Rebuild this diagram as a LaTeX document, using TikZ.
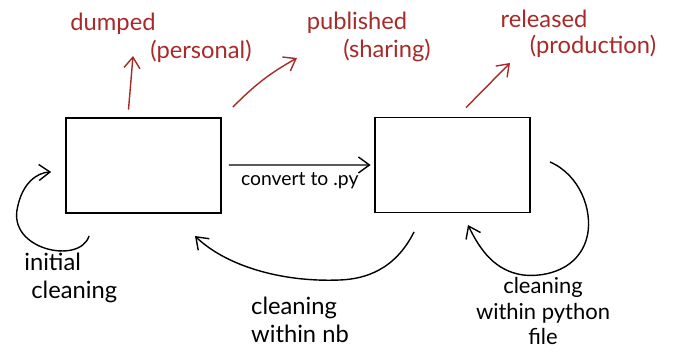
\documentclass[tikz,border=0pt]{standalone}
\usepackage{fontspec}
\setmainfont{Lato}
\usepackage{xcolor}
\usepackage{tikz}
\usetikzlibrary{arrows.meta,positioning,calc}

\definecolor{inkred}{RGB}{168,42,40}

\begin{document}
\begin{tikzpicture}[
		stage/.style={draw, line width=1pt, minimum width=3.1cm, minimum height=1.9cm},
		flow/.style={line width=0.8pt, -{Straight Barb[length=2.2mm,width=3.2mm]}},
		redflow/.style={flow, draw=inkred},
		redlabel/.style={text=inkred, font=\fontsize{13.5}{15}\selectfont, inner sep=0pt},
		blacklabel/.style={font=\fontsize{13.5}{16}\selectfont, inner sep=0pt}
	]
		\useasboundingbox (0,0) rectangle (13.56,7.2);

		% the two stages
		\node[stage] (nb) at (2.87,3.89) {};
		\node[stage] (py) at (9.05,3.9) {};

		\draw[flow] ([xshift=4pt,yshift=0.3pt]nb.east) -- node[below=4pt, font=\fontsize{11}{13}\selectfont, inner sep=0pt] (convlabel) {convert to .py} ([xshift=-2pt]py.west);

		% where the work ends up
		\node[redlabel] (dumped) at (2.26,6.72) {dumped};
		\node[redlabel] (personal) at (4.02,6.18) {(personal)};
		\node[redlabel] (published) at (7.14,6.74) {published};
		\node[redlabel] (sharing) at (7.74,6.2) {(sharing)};
		\node[redlabel] (released) at (10.88,6.82) {released};
		\node[redlabel] (production) at (11.86,6.28) {(production)};

		\coordinate (dumpedtip) at (2.66,6.08);
		\coordinate (publishedtip) at (5.94,6.04);
		\coordinate (releasedtip) at (10.2,5.94);

		\draw[redflow] ([xshift=-0.3cm,yshift=0.15cm]nb.north) -- (dumpedtip);
		\draw[redflow] ([xshift=0.22cm,yshift=0.2cm]nb.north east) to[bend left=8] (publishedtip);
		\draw[redflow] ([xshift=0.27cm,yshift=0.18cm]py.north) -- (releasedtip);

		% cleaning loops
		\coordinate (initstart) at (1.78,2.48);
		\coordinate (nbstart) at (8.28,2.56);
		\coordinate (nbend) at (3.9,2.48);
		\coordinate (pystart) at (11.0,3.96);
		\coordinate (pyend) at (9.36,2.7);

		\draw[flow] (initstart) .. controls (1.6,1.9) and (0.15,2.2) .. (0.35,3.05) .. controls (0.45,3.55) and (0.75,3.75) .. ([xshift=-0.28cm,yshift=-0.13cm]nb.west);
		\draw[flow] (nbstart) .. controls (7.9,1.8) and (7.3,1.62) .. (6.8,1.6) .. controls (5.6,1.55) and (4.5,1.9) .. (nbend);
		\draw[flow] (pystart) .. controls (11.6,3.7) and (11.85,3.0) .. (11.75,2.5) .. controls (11.6,1.8) and (10.9,1.65) .. (10.46,1.7) .. controls (9.9,1.78) and (9.6,2.2) .. (pyend);

		\node[blacklabel, align=left, anchor=north west] (initlabel) at (0.48,2.14) {initial\\\hspace{0.14cm}cleaning};
		\node[blacklabel, align=left] (nblabel) at (6.0,0.8) {cleaning\\within nb};
		\node[blacklabel, align=center, font=\fontsize{12.5}{14.5}\selectfont] (pylabel) at (10.86,0.98) {cleaning\\within python\\file};
	\end{tikzpicture}
\end{document}
